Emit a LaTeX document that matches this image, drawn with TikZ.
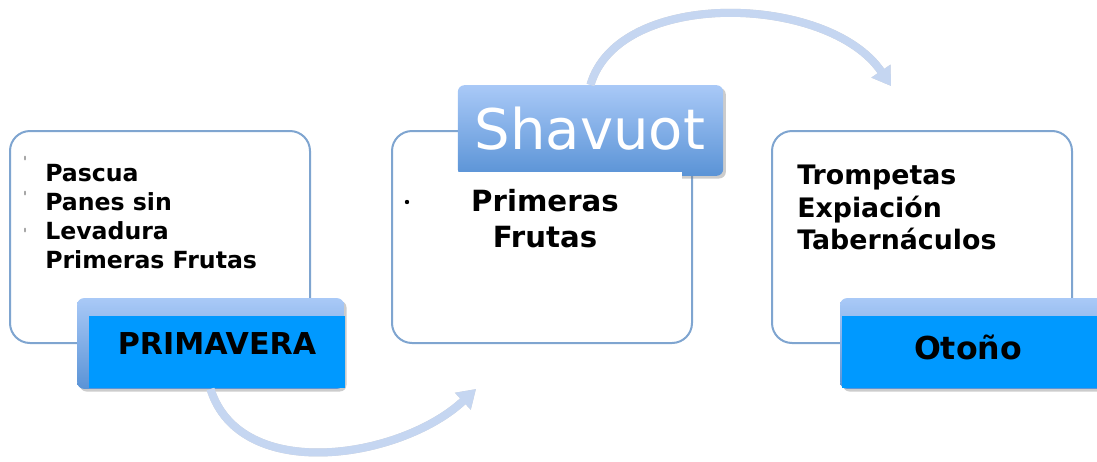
\documentclass[tikz,border=0pt]{standalone}
\usepackage{fontspec}
\setmainfont{DejaVu Sans}
\usetikzlibrary{positioning, arrows.meta, shadows}
\definecolor{marco}{HTML}{7FA5D0}
\definecolor{azul}{HTML}{0099FF}
\definecolor{tabarriba}{HTML}{A9C9F7}
\definecolor{tababajo}{HTML}{5A93D6}
\definecolor{flecha}{HTML}{C5D6F1}

\begin{document}
\begin{tikzpicture}[x=0.75pt, y=-0.75pt,
  caja/.style={draw=marco, line width=1.5pt, rounded corners=15pt, fill=white, minimum width=225pt, minimum height=159pt, inner sep=0pt},
  pestana/.style={rounded corners=5pt, top color=tabarriba, bottom color=tababajo, minimum height=68pt, inner sep=0pt, drop shadow={opacity=0.4, shadow xshift=2pt, shadow yshift=-2pt}},
  franja/.style={fill=azul, minimum height=54pt, inner sep=0pt},
  vuelta/.style={draw=flecha, line width=6pt, -{Triangle[width=16.5pt, length=13.5pt]}},
  sombra/.style={vuelta, draw=black!18, shift={(1.5,1.5)}}]
\useasboundingbox (0,0) rectangle (1097,461);
\node[caja] (cajaP) at (160,237) {};
\node[caja] (cajaS) at (542,237) {};
\node[caja] (cajaO) at (922,237) {};

\node[pestana, minimum width=200pt] (tabP) at (210.5,343.5) {};
\node[franja, minimum width=192pt] (franjaP) at (217,352) {};
\node[font=\fontsize{22.6}{26}\selectfont\bfseries] (primavera) at (217,344) {PRIMAVERA};

\node[pestana, minimum width=199pt] (tabS) at (590.5,130.5) {};
\fill[white] (458,172) rectangle (682,262);
\node[text=white, font=\fontsize{42}{48}\selectfont] (shavuot) at (590,129) {Shavuot};

\node[pestana, minimum width=200pt] (tabO) at (973.5,343.5) {};
\node[franja, minimum width=200pt] (franjaO) at (975.5,351.5) {};
\node[font=\fontsize{23.7}{27}\selectfont\bfseries] (otono) at (968,347) {Otoño};

\node[anchor=north west, inner sep=0pt, align=left, font=\fontsize{17.7}{21.8}\selectfont\bfseries] (fiestasP) at (45,164) {Pascua\\Panes sin\\Levadura\\Primeras Frutas};
\node[anchor=north, inner sep=0pt, align=center, font=\fontsize{21.9}{27}\selectfont\bfseries] (fiestasS) at (545,189) {Primeras\\Frutas};
\node[anchor=north west, inner sep=0pt, align=left, font=\fontsize{20.1}{24.4}\selectfont\bfseries] (fiestasO) at (797,165) {Trompetas\\Expiación\\Tabernáculos};

\foreach \y in {158,193,230} \fill[gray!70] (25,\y) ellipse (1 and 2.5);
\fill (407,202) circle (2.2);

\coordinate (finP) at (476,389);
\coordinate (finS) at (891,86);
\draw[sombra] (tabP.south) .. controls +(30,95) and +(-75,70) .. (finP);
\draw[vuelta] (tabP.south) .. controls +(30,95) and +(-75,70) .. (finP);
\draw[sombra] (tabS.north) .. controls +(28,-97) and +(-62,-92) .. (finS);
\draw[vuelta] (tabS.north) .. controls +(28,-97) and +(-62,-92) .. (finS);
\end{tikzpicture}
\end{document}
